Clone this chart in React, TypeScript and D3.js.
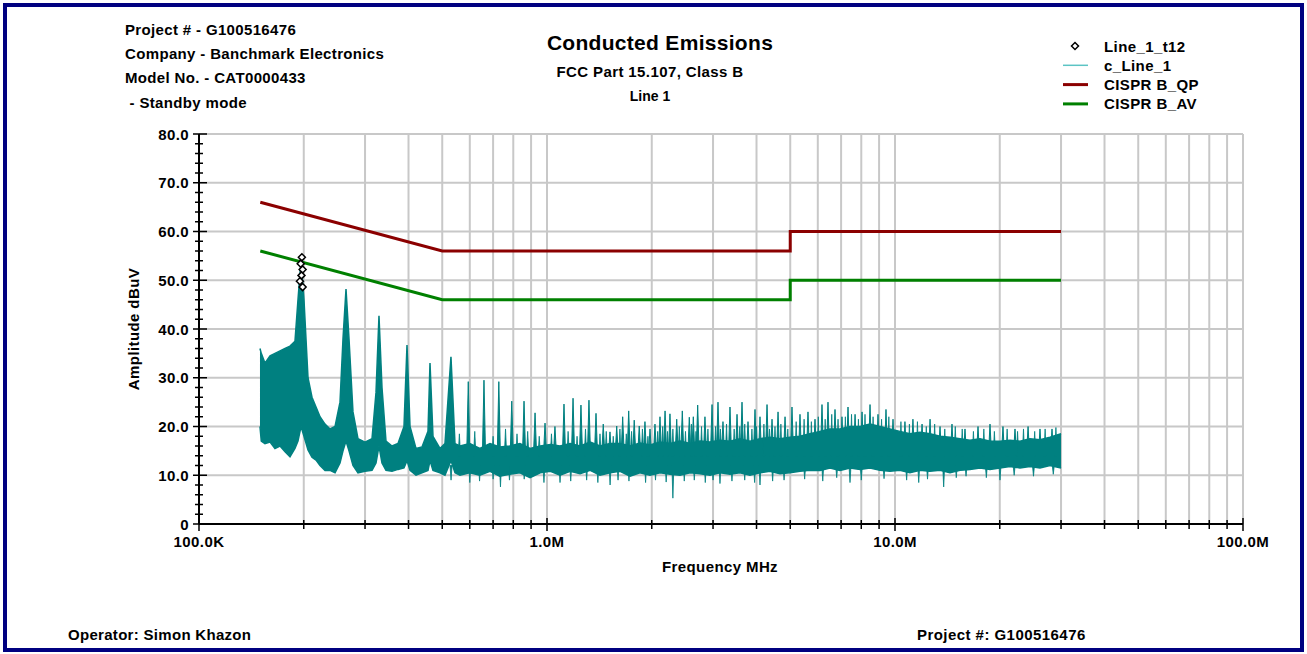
import React from 'react'
import * as d3 from 'd3'

const W = 1307
const H = 654

const headerLines = ['Project # - G100516476', 'Company - Banchmark Electronics', 'Model No. - CAT0000433', ' - Standby mode']
const titleText = 'Conducted Emissions'
const subTitle = 'FCC Part 15.107, Class B'
const lineName = 'Line 1'
const operatorText = 'Operator: Simon Khazon'
const footerProject = 'Project #: G100516476'

const xTickValues = [0.1, 1, 10, 100]
const xTickLabels = ['100.0K', '1.0M', '10.0M', '100.0M']
const yTickValues = [0, 10, 20, 30, 40, 50, 60, 70, 80]
const yTickLabels = ['0', '10.0', '20.0', '30.0', '40.0', '50.0', '60.0', '70.0', '80.0']

// limit lines (MHz, dBuV)
const limitFreq = [0.15, 0.5, 5, 5, 30]
const qpLimit = [66, 56, 56, 60, 60]
const avLimit = [56, 46, 46, 50, 50]

// peak markers Line_1_t12
const markerFreq = [0.1975, 0.196, 0.1985, 0.197, 0.195, 0.1985]
const markerAmp = [54.7, 53.4, 52.2, 51.0, 49.8, 48.6]

// c_Line_1 trace envelope
const envFreq = [
  0.1497, 0.151, 0.1547, 0.16, 0.1653, 0.1709, 0.1767, 0.1826, 0.1887, 0.1925, 0.1964, 0.2003, 0.2057, 0.2112,
  0.2169, 0.2227, 0.2302, 0.2379, 0.246, 0.2542, 0.2593, 0.2645, 0.2698, 0.277, 0.2863, 0.2999, 0.3142, 0.3226,
  0.329, 0.3356, 0.3446, 0.3586, 0.3731, 0.3882, 0.396, 0.404, 0.4203, 0.4373, 0.455, 0.4611, 0.4703, 0.4925,
  0.5091, 0.5297, 0.544, 0.5623, 0.6, 0.641, 0.686, 0.731, 0.781, 0.836, 0.894, 0.956, 1.023, 1.09, 1.166, 1.244,
  1.331, 1.42, 1.518, 1.621, 1.733, 1.85, 1.977, 2.112, 2.257, 2.411, 2.576, 2.752, 2.94, 3.141, 3.356, 3.585,
  3.83, 4.093, 4.372, 4.672, 4.991, 5.333, 5.698, 6.088, 6.504, 6.95, 7.425, 7.932, 8.475, 9.055, 9.675, 10.33,
  11.04, 11.8, 12.6, 13.47, 14.39, 15.37, 16.42, 17.55, 18.75, 20.03, 21.4, 22.86, 24.43, 26.1, 27.88, 30.0,
]
const envHigh = [
  36.0, 35.0, 33.0, 34.5, 35.0, 35.5, 36.0, 36.5, 37.5, 46.0, 54.2, 46.0, 30.0, 26.0,
  24.0, 22.0, 20.5, 19.5, 20.0, 25.0, 38.0, 48.2, 38.0, 23.0, 17.5, 16.8, 17.5, 27.0,
  42.7, 28.0, 17.0, 16.0, 16.5, 20.0, 36.7, 20.0, 15.5, 15.8, 19.0, 33.0, 18.0, 15.5,
  16.5, 34.3, 16.5, 16.0, 16.5, 15.5, 16.5, 15.8, 16.0, 16.5, 15.5, 16.0, 16.3, 16.0, 16.5, 16.0,
  16.8, 16.0, 16.5, 16.5, 16.0, 16.6, 16.2, 16.8, 16.5, 17.0, 16.5, 17.0, 16.8, 17.2, 17.0, 17.5,
  17.0, 17.5, 17.8, 17.5, 17.8, 18.0, 18.5, 19.0, 19.5, 19.5, 20.0, 20.0, 20.5, 20.0, 19.5, 19.0,
  18.5, 18.8, 18.5, 18.0, 17.8, 17.5, 17.2, 17.5, 17.0, 17.0, 17.2, 17.0, 17.5, 17.3, 17.8, 18.5,
]
const envLow = [
  20.0, 17.0, 16.5, 16.8, 15.5, 16.0, 14.8, 13.8, 15.5, 17.0, 20.0, 18.0, 15.2, 13.7,
  13.1, 12.0, 11.0, 11.0, 10.5, 12.5, 15.0, 17.0, 15.0, 12.0, 10.5, 10.8, 11.0, 12.5,
  16.0, 12.5, 11.0, 10.8, 11.2, 11.5, 13.0, 11.0, 10.0, 10.5, 11.0, 13.0, 11.0, 10.5,
  10.0, 13.0, 10.5, 10.0, 10.5, 10.0, 10.8, 9.8, 10.2, 10.5, 9.5, 10.5, 10.8, 10.0, 10.8, 10.3,
  11.0, 10.0, 10.5, 10.8, 9.8, 10.5, 10.0, 10.5, 10.2, 10.0, 10.5, 10.3, 10.0, 10.5, 10.2, 10.5,
  10.0, 10.5, 10.8, 10.3, 10.5, 10.8, 11.0, 11.0, 11.5, 11.0, 11.5, 11.2, 11.5, 11.0, 10.8, 11.0,
  10.5, 11.0, 10.8, 11.0, 10.5, 11.0, 11.2, 11.5, 11.2, 11.5, 11.8, 11.5, 11.8, 11.5, 12.0, 11.5,
]

// harmonic spikes above the noise floor
const spikeFreq = [
  0.594, 0.659, 0.727, 0.792, 0.859, 0.924, 0.987, 1.054, 1.119, 1.188, 1.252, 1.32, 1.383, 1.451, 1.517,
  1.586, 1.65, 1.717, 1.781, 1.841, 1.912, 1.977, 2.043, 2.112, 2.184, 2.256, 2.359, 2.448, 2.564, 2.633,
  2.71, 2.844, 2.98, 3.1, 3.204, 3.356, 3.516, 3.634, 3.781, 3.96, 4.093, 4.288, 4.432, 4.612, 4.831, 5.058,
  5.333, 5.623, 5.89, 6.169, 6.419, 6.724, 7.042, 7.328, 7.678, 8.041, 8.477, 8.936, 9.421, 9.869, 10.68,
  11.26, 11.96, 12.61, 13.47, 14.58, 15.89, 17.32, 18.75, 20.43, 22.12, 24.12, 26.1, 28.26,
]
const spikeTop = [
  29.2, 29.5, 29.2, 25.2, 25.2, 22.8, 20.7, 20.0, 24.6, 25.8, 24.4, 25.4, 22.7, 20.5, 18.9,
  20.1, 22.0, 23.2, 21.3, 20.1, 21.0, 19.5, 20.5, 22.0, 23.2, 22.6, 21.5, 23.2, 21.9, 22.0,
  24.4, 22.0, 24.5, 25.0, 21.0, 24.0, 22.5, 25.0, 21.0, 23.5, 22.0, 24.5, 21.5, 23.0, 22.0, 24.0,
  22.5, 23.0, 21.5, 24.5, 25.0, 23.5, 22.0, 24.0, 22.5, 23.0, 24.5, 22.5, 23.5, 21.5, 21.0,
  21.5, 20.5, 21.5, 20.0, 20.5, 19.5, 20.0, 20.5, 20.0, 19.5, 20.0, 19.5, 19.5,
]

// smaller ragged peaks on the top edge of the noise floor
const minorSpikeFreq = [
  0.56, 0.62, 0.7, 0.76, 0.82, 0.88, 0.95, 1.03, 1.15, 1.22, 1.29, 1.42, 1.48, 1.55, 1.62, 1.69, 1.75, 1.88,
  1.95, 2.08, 2.15, 2.22, 2.3, 2.4, 2.5, 2.6, 2.68, 2.78, 2.9, 3.05, 3.15, 3.28, 3.45, 3.58, 3.7, 3.88, 4.0,
  4.2, 4.36, 4.52, 4.7, 4.92, 5.2, 5.48, 5.75, 6.02, 6.3, 6.58, 6.86, 7.2, 7.5, 7.85, 8.2, 8.65, 9.15, 9.6,
  10.4, 11.0, 11.6, 12.3, 13.0, 13.9, 14.9, 15.6, 16.8, 18.0, 19.3, 21.0, 22.5, 23.4, 25.2, 27.0, 29.0,
]
const minorSpikeTop = [
  18.5, 19.0, 18.0, 19.5, 18.5, 19.0, 18.0, 18.5, 19.0, 18.0, 19.5, 18.5, 19.0, 18.0, 19.5, 18.5, 19.0, 19.5,
  18.0, 19.0, 20.0, 19.0, 19.5, 20.0, 19.0, 20.5, 19.0, 20.0, 19.5, 20.0, 19.5, 20.5, 19.5, 20.0, 20.5, 19.5, 20.0,
  20.5, 19.5, 20.0, 20.5, 19.5, 21.0, 21.5, 21.0, 22.0, 21.5, 22.5, 21.5, 22.0, 22.5, 21.5, 22.5, 22.0, 21.5, 22.0,
  21.0, 20.5, 21.0, 20.0, 20.5, 19.5, 20.0, 19.5, 19.0, 19.5, 19.0, 19.5, 19.0, 19.5, 19.0, 19.5, 19.8,
]

// dips below the noise floor
const dipFreq = [
  0.53, 0.6, 0.64, 0.7, 0.735, 0.78, 0.86, 0.98, 1.09, 1.17, 1.3, 1.4, 1.518, 1.6, 1.72, 1.92, 2.05, 2.2, 2.3,
  2.48, 2.65, 2.85, 3.0, 3.141, 3.4, 3.7, 3.95, 4.093, 4.45, 4.8, 5.5, 6.2, 6.8, 7.425, 8.0, 9.3, 10.8, 11.7,
  12.4, 13.8, 15.0, 16.0, 18.3, 20.03, 22.0, 25.0, 28.5,
]
const dipBottom = [
  9.0, 8.5, 8.8, 9.2, 7.6, 9.0, 9.2, 8.5, 8.5, 8.8, 9.0, 8.5, 8.0, 9.0, 8.8, 8.5, 9.0, 8.6, 5.3,
  8.8, 9.0, 8.5, 9.0, 8.3, 8.8, 9.0, 8.5, 8.0, 8.8, 9.0, 9.2, 8.8, 9.5, 8.5, 9.0, 9.3, 9.0, 8.5,
  9.2, 7.6, 9.5, 9.8, 9.5, 9.0, 10.0, 9.8, 10.2,
]

const legendItems = [
  { label: 'Line_1_t12', kind: 'marker', color: '#000000' },
  { label: 'c_Line_1', kind: 'line', color: '#5cc4c4', width: 1.5 },
  { label: 'CISPR B_QP', kind: 'line', color: '#8b0000', width: 3 },
  { label: 'CISPR B_AV', kind: 'line', color: '#008000', width: 3 },
]

const font = '"Liberation Sans", Arial, Helvetica, sans-serif'
const teal = '#008080'
const ls = 0.4

export default function App() {
  const x = d3.scaleLog().domain([0.1, 100]).range([199, 1243])
  const y = d3.scaleLinear().domain([0, 80]).range([524, 134])

  const env = envFreq.map((f, i) => ({ f, hi: envHigh[i], lo: envLow[i] }))
  const band = d3.area<any>().x(d => x(d.f)).y0(d => y(d.lo)).y1(d => y(d.hi))(env)
  const bandTop = d3.line<any>().x(d => x(d.f)).y(d => y(d.hi))(env)
  const bandBottom = d3.line<any>().x(d => x(d.f)).y(d => y(d.lo))(env)

  const limLine = (vals: number[]) =>
    d3.line<number>().x((_, i) => x(limitFreq[i])).y(v => y(v))(vals)

  const minorX = x.ticks()
  const minorY = y.ticks(40)

  const diamond = (cx: number, cy: number, r: number) =>
    `M${cx},${cy - r}L${cx + r},${cy}L${cx},${cy + r}L${cx - r},${cy}Z`

  // narrow spike shape from the band up (or down) to a value
  const spike = (f: number, v: number, base: number, hw: number) => {
    const cx = x(f)
    return `M${cx - hw},${y(base)}L${cx},${y(v)}L${cx + hw},${y(base)}Z`
  }

  return (
    <svg width={W} height={H} style={{ position: 'absolute', left: 0, top: 0 }} fontFamily={font} fontWeight="bold">
      <rect x={0} y={0} width={W} height={H} fill="#ffffff" />
      <rect x={5} y={5} width={W - 10} height={H - 9} fill="none" stroke="#000080" strokeWidth={4} />

      {headerLines.map((t, i) => (
        <text key={t} x={125} y={35 + i * 24.2} fontSize={15} letterSpacing={0.35} style={{ whiteSpace: 'pre' }}>{t}</text>
      ))}
      <text x={660} y={50} fontSize={21} letterSpacing={0.3} textAnchor="middle">{titleText}</text>
      <text x={650} y={77} fontSize={15} letterSpacing={0.4} textAnchor="middle">{subTitle}</text>
      <text x={650} y={101} fontSize={14} textAnchor="middle">{lineName}</text>

      {legendItems.map((d, i) => {
        const ly = 46 + i * 19.3
        return (
          <g key={d.label}>
            {d.kind === 'marker'
              ? <path d={diamond(1075, ly, 3.5)} fill="#fff" stroke="#000" strokeWidth={1.5} />
              : <line x1={1063} x2={1088} y1={ly} y2={ly} stroke={d.color} strokeWidth={d.width} />}
            <text x={1104} y={ly + 5.5} fontSize={15} letterSpacing={ls}>{d.label}</text>
          </g>
        )
      })}

      {/* grid */}
      {minorX.filter(v => v > 0.1).map(v => (
        <line key={'gx' + v} x1={x(v)} x2={x(v)} y1={y(80)} y2={y(0)} stroke="#c8c8c8" strokeWidth={2} />
      ))}
      {yTickValues.filter(v => v > 0).map(v => (
        <line key={'gy' + v} x1={x(0.1)} x2={x(100)} y1={y(v)} y2={y(v)} stroke="#c8c8c8" strokeWidth={2} />
      ))}

      {/* trace */}
      <g fill={teal} stroke={teal}>
        <path d={band || ''} strokeWidth={0} />
        <path d={bandTop || ''} fill="none" strokeWidth={1.5} />
        <path d={bandBottom || ''} fill="none" strokeWidth={1.5} />
        {spikeFreq.map((f, i) => (
          <path key={'s' + i} d={spike(f, spikeTop[i], 14, 1.6)} strokeWidth={1} />
        ))}
        {minorSpikeFreq.map((f, i) => (
          <path key={'ms' + i} d={spike(f, minorSpikeTop[i], 14, 1.2)} strokeWidth={0.8} />
        ))}
        {dipFreq.map((f, i) => (
          <path key={'d' + i} d={spike(f, dipBottom[i], 12, 1.0)} strokeWidth={0.8} />
        ))}
      </g>

      {/* limits */}
      <path d={limLine(qpLimit) || ''} fill="none" stroke="#8b0000" strokeWidth={3} />
      <path d={limLine(avLimit) || ''} fill="none" stroke="#008000" strokeWidth={3} />

      {/* markers */}
      {markerFreq.map((f, i) => (
        <path key={'m' + i} d={diamond(x(f), y(markerAmp[i]), 3.5)} fill="#fff" stroke="#000" strokeWidth={1.5} />
      ))}

      {/* axes */}
      <line x1={x(0.1)} x2={x(100)} y1={y(0)} y2={y(0)} stroke="#000" strokeWidth={2} />
      <line x1={x(0.1)} x2={x(0.1)} y1={y(80)} y2={y(0)} stroke="#000" strokeWidth={2} />
      {minorX.map(v => {
        const major = xTickValues.includes(v)
        return <line key={'tx' + v} x1={x(v)} x2={x(v)} y1={y(0) - (major ? 6 : 4)} y2={y(0) + (major ? 7 : 5)} stroke="#000" strokeWidth={1.5} />
      })}
      {minorY.map(v => {
        const major = yTickValues.includes(v)
        return <line key={'ty' + v} x1={x(0.1) - (major ? 6 : 4)} x2={x(0.1) + (major ? 8 : 4)} y1={y(v)} y2={y(v)} stroke="#000" strokeWidth={1.5} />
      })}
      {xTickValues.map((v, i) => (
        <text key={'lx' + v} x={x(v)} y={547} fontSize={15} letterSpacing={ls} textAnchor="middle">{xTickLabels[i]}</text>
      ))}
      {yTickValues.map((v, i) => (
        <text key={'ly' + v} x={189} y={y(v) + 5.5} fontSize={15} letterSpacing={ls} textAnchor="end">{yTickLabels[i]}</text>
      ))}
      <text x={720} y={572} fontSize={15} letterSpacing={ls} textAnchor="middle">Frequency MHz</text>
      <text transform={`translate(139,329) rotate(-90)`} fontSize={15} letterSpacing={ls} textAnchor="middle">Amplitude dBuV</text>

      <text x={68} y={640} fontSize={15} letterSpacing={0.3}>{operatorText}</text>
      <text x={917} y={640} fontSize={15} letterSpacing={0.45}>{footerProject}</text>
    </svg>
  )
}
